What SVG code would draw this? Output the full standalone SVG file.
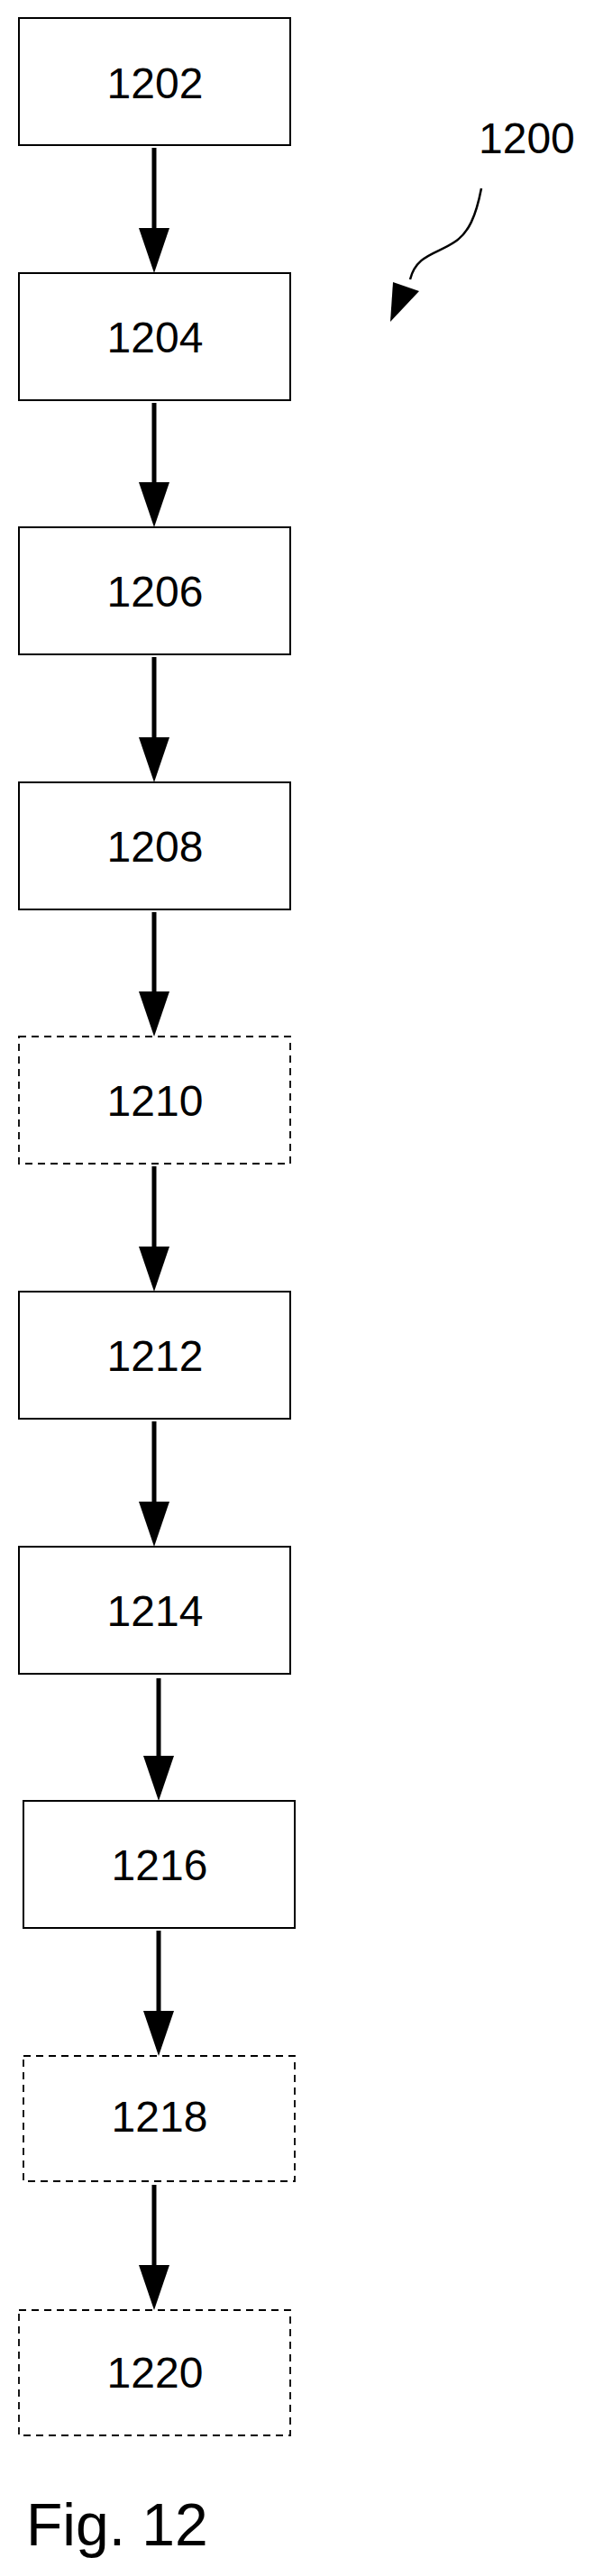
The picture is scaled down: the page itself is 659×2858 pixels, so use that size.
<svg xmlns="http://www.w3.org/2000/svg" width="659" height="2858" viewBox="0 0 659 2858">
<style>
.box{fill:#fff;stroke:#000;stroke-width:2}
.dash{fill:#fff;stroke:#000;stroke-width:1.8;stroke-dasharray:8 6}
.lbl{font-family:"Liberation Sans",Arial,sans-serif;font-size:48px;text-anchor:middle;fill:#000}
.conn{stroke:#000;stroke-width:5;fill:none}
.head{fill:#000}
</style>
<rect width="659" height="2858" fill="#fff"/>
<g id="n1202"><rect class="box" x="21" y="20" width="301" height="141"/><text class="lbl" x="172" y="109">1202</text></g>
<g id="n1204"><rect class="box" x="21" y="303" width="301" height="141"/><text class="lbl" x="172" y="391">1204</text></g>
<g id="n1206"><rect class="box" x="21" y="585" width="301" height="141"/><text class="lbl" x="172" y="673">1206</text></g>
<g id="n1208"><rect class="box" x="21" y="868" width="301" height="141"/><text class="lbl" x="172" y="956">1208</text></g>
<g id="n1210"><rect class="dash" x="21" y="1150" width="301" height="141"/><text class="lbl" x="172" y="1238">1210</text></g>
<g id="n1212"><rect class="box" x="21" y="1433" width="301" height="141"/><text class="lbl" x="172" y="1521">1212</text></g>
<g id="n1214"><rect class="box" x="21" y="1716" width="301" height="141"/><text class="lbl" x="172" y="1804">1214</text></g>
<g id="n1216"><rect class="box" x="26" y="1998" width="301" height="141"/><text class="lbl" x="177" y="2086">1216</text></g>
<g id="n1218"><rect class="dash" x="26" y="2281" width="301" height="139"/><text class="lbl" x="177" y="2365">1218</text></g>
<g id="n1220"><rect class="dash" x="21" y="2563" width="301" height="139"/><text class="lbl" x="172" y="2649">1220</text></g>
<g id="connectors">
<line class="conn" x1="171" y1="164" x2="171" y2="256"/><polygon class="head" points="154,253 188,253 171,303"/>
<line class="conn" x1="171" y1="447" x2="171" y2="538"/><polygon class="head" points="154,535 188,535 171,585"/>
<line class="conn" x1="171" y1="729" x2="171" y2="821"/><polygon class="head" points="154,818 188,818 171,868"/>
<line class="conn" x1="171" y1="1012" x2="171" y2="1103"/><polygon class="head" points="154,1100 188,1100 171,1150"/>
<line class="conn" x1="171" y1="1294" x2="171" y2="1386"/><polygon class="head" points="154,1383 188,1383 171,1433"/>
<line class="conn" x1="171" y1="1577" x2="171" y2="1669"/><polygon class="head" points="154,1666 188,1666 171,1716"/>
<line class="conn" x1="176" y1="1862" x2="176" y2="1951"/><polygon class="head" points="159,1948 193,1948 176,1998"/>
<line class="conn" x1="176" y1="2142" x2="176" y2="2234"/><polygon class="head" points="159,2231 193,2231 176,2281"/>
<line class="conn" x1="171" y1="2424" x2="171" y2="2516"/><polygon class="head" points="154,2513 188,2513 171,2563"/>
<path d="M534,209 C528,240 520,258 505,268 C485,282 462,282 455,310" stroke="#000" stroke-width="2.5" fill="none"/>
<polygon class="head" points="436,313 465,323 433,357"/>
</g>
<text x="531" y="170" style="font-family:'Liberation Sans',Arial,sans-serif;font-size:48px;fill:#000">1200</text>
<text x="29" y="2824" style="font-family:'Liberation Sans',Arial,sans-serif;font-size:66px;fill:#000">Fig. 12</text>
</svg>
